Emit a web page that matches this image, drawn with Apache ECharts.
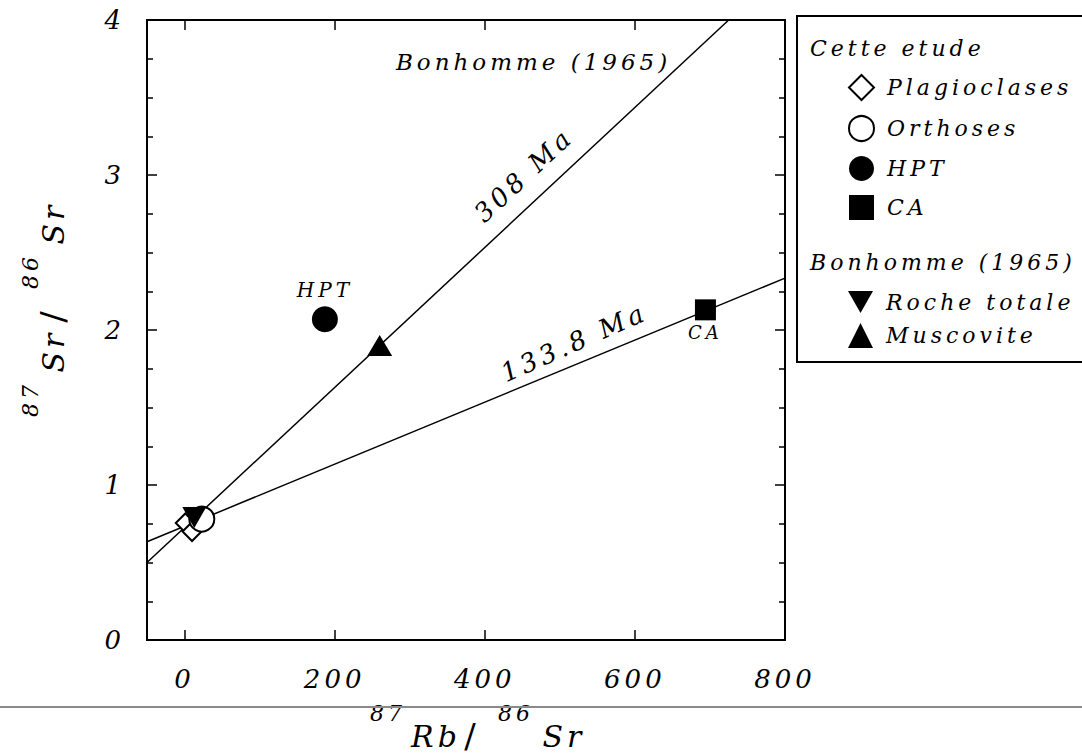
<!DOCTYPE html>
<html>
<head>
<meta charset="utf-8">
<script src="https://cdn.jsdelivr.net/npm/echarts@6/dist/echarts.min.js"></script>
<style>
  html, body { margin: 0; padding: 0; background: #fff; }
  #chart { width: 1082px; height: 756px; }
  #chart text { letter-spacing: 4px; }
</style>
</head>
<body>
<div id="chart"></div>
<script>
// tick values
var xTicks = [0, 200, 400, 600, 800];
var xTopTicks = [0, 200, 400, 600];

// measured points (87Rb/86Sr, 87Sr/86Sr)
var plagioclases = [[1, 0.755], [10, 0.70]];
var orthoses = [[23, 0.78]];
var hpt = [[187, 2.07]];
var ca = [[694, 2.13]];
var rocheTotale = [[13, 0.79]];
var muscovite = [[260, 1.90]];

// isochron end points
var iso308 = [[-50, 0.50], [725, 4.0]];
var iso1338 = [[-50, 0.634], [800, 2.335]];

// text notes placed in data space
var notes = [
  { text: 'Bonhomme (1965)', at: [465, 3.73], rotate: 0, size: 23 },
  { text: '308 Ma', at: [452, 3.0], rotate: 43, size: 26 },
  { text: '133.8 Ma', at: [519, 1.92], rotate: 24, size: 26 }
];

var FONT = 'DejaVu Serif';
var ink = '#000';
var downTri = 'path://M0,0 L24,0 L12,21 Z';

var chart = echarts.init(document.getElementById('chart'), null, { renderer: 'svg' });

function sym(name, symbol, size, filled, data, extra) {
  var s = {
    name: name,
    type: 'scatter',
    data: data,
    symbol: symbol,
    symbolSize: size,
    itemStyle: filled
      ? { color: ink, borderColor: ink, borderWidth: 0, opacity: 1 }
      : { color: '#fff', borderColor: ink, borderWidth: 2, opacity: 1 },
    emphasis: { disabled: true },
    silent: true
  };
  for (var k in extra) s[k] = extra[k];
  return s;
}

var tickStyle = { color: ink, width: 1.5 };
var labelStyle = { color: ink, fontFamily: FONT, fontStyle: 'italic', fontSize: 26 };
var legendText = { color: ink, fontFamily: FONT, fontStyle: 'italic', fontSize: 22, padding: [0, 0, 0, 8] };

chart.setOption({
  animation: false,
  grid: {
    left: 147, right: 297, top: 20, bottom: 116,
    show: true, borderColor: ink, borderWidth: 2, backgroundColor: 'transparent'
  },
  xAxis: [{
    type: 'value', min: -50, max: 800, position: 'bottom',
    axisLine: { show: false, onZero: false },
    splitLine: { show: false },
    axisTick: { inside: true, length: 10, lineStyle: tickStyle, customValues: xTicks },
    axisLabel: Object.assign({ margin: 26, customValues: xTicks }, labelStyle)
  }, {
    type: 'value', min: -50, max: 800, position: 'top',
    axisLine: { show: false, onZero: false },
    splitLine: { show: false },
    axisTick: { inside: true, length: 10, lineStyle: tickStyle, customValues: xTopTicks },
    axisLabel: { show: false }
  }],
  yAxis: [{
    type: 'value', min: 0, max: 4, interval: 1, position: 'left',
    axisLine: { show: false, onZero: false },
    splitLine: { show: false },
    axisTick: { inside: true, length: 10, lineStyle: tickStyle },
    minorTick: { show: true, splitNumber: 4, length: 6, lineStyle: tickStyle },
    axisLabel: Object.assign({ margin: 22 }, labelStyle)
  }, {
    type: 'value', min: 0, max: 4, interval: 1, position: 'right',
    axisLine: { show: false, onZero: false },
    splitLine: { show: false },
    axisTick: { inside: true, length: 10, lineStyle: tickStyle },
    minorTick: { show: true, splitNumber: 4, length: 6, lineStyle: tickStyle },
    axisLabel: { show: false }
  }],
  legend: [{
    orient: 'vertical', left: 843, top: 69,
    itemWidth: 25, itemHeight: 25, itemGap: 14,
    selectedMode: false,
    data: ['Plagioclases', 'Orthoses', 'HPT', 'CA'],
    textStyle: legendText
  }, {
    orient: 'vertical', left: 843, top: 286,
    itemWidth: 25, itemHeight: 25, itemGap: 10,
    selectedMode: false,
    data: ['Roche totale', 'Muscovite'],
    textStyle: legendText
  }],
  series: [
    {
      name: '308 Ma', type: 'line', data: iso308, symbol: 'none', silent: true,
      lineStyle: { color: ink, width: 1.5 }, z: 1
    },
    {
      name: '133.8 Ma', type: 'line', data: iso1338, symbol: 'none', silent: true,
      lineStyle: { color: ink, width: 1.5 }, z: 1
    },
    sym('Plagioclases', 'diamond', 19, false, plagioclases, { z: 2 }),
    sym('Orthoses', 'circle', 25, false, orthoses, { z: 3 }),
    sym('Roche totale', downTri, [24, 21], true, rocheTotale, { z: 4 }),
    sym('HPT', 'circle', 26, true, hpt, {
      z: 4,
      label: {
        show: true, position: 'top', distance: 6, formatter: 'HPT',
        color: ink, fontFamily: FONT, fontStyle: 'italic', fontSize: 20
      }
    }),
    sym('CA', 'rect', 21, true, ca, {
      z: 4,
      label: {
        show: true, position: 'bottom', distance: 3, formatter: 'CA',
        color: ink, fontFamily: FONT, fontStyle: 'italic', fontSize: 18
      }
    }),
    sym('Muscovite', 'triangle', [25, 21], true, muscovite, { z: 4 })
  ]
});

// everything that is only text or frame goes in as graphic elements
var graphics = [];
notes.forEach(function (n, i) {
  var p = chart.convertToPixel({ gridIndex: 0 }, n.at);
  graphics.push({
    type: 'text', id: 'note' + i, x: p[0], y: p[1],
    rotation: n.rotate * Math.PI / 180, silent: true,
    style: {
      text: n.text, fill: ink, align: 'center', verticalAlign: 'middle',
      font: 'italic ' + n.size + 'px "' + FONT + '"'
    }
  });
});

// isotope ratio titles: superscript mass numbers as separate pieces
function ratioTitle(id, x, y, rotation, el1, el2) {
  function piece(text, dx, dy, size, italic) {
    return {
      type: 'text', x: dx, y: dy, silent: true,
      style: {
        text: text, fill: ink, align: 'center', verticalAlign: 'middle',
        font: (italic ? 'italic ' : '') + size + 'px "' + FONT + '"'
      }
    };
  }
  return {
    type: 'group', id: id, x: x, y: y, rotation: rotation, silent: true,
    children: [
      piece('87', -92, -15, 22, true),
      piece(el1, -44, 8, 30, true),
      piece('/', -8, 8, 34, false),
      piece('86', 36, -15, 22, true),
      piece(el2, 84, 8, 30, true)
    ]
  };
}
graphics.push(ratioTitle('xname', 480, 728, 0, 'Rb', 'Sr'));
graphics.push(ratioTitle('yname', 45, 307, Math.PI / 2, 'Sr', 'Sr'));

// legend frame and group headers
graphics.push({
  type: 'rect', id: 'legendBox', silent: true,
  shape: { x: 797, y: 16, width: 300, height: 346 },
  style: { fill: 'none', stroke: ink, lineWidth: 2 }
});
graphics.push({
  type: 'text', id: 'head1', x: 810, y: 48, silent: true,
  style: { text: 'Cette etude', fill: ink, verticalAlign: 'middle', font: 'italic 22px "' + FONT + '"' }
});
graphics.push({
  type: 'text', id: 'head2', x: 810, y: 262, silent: true,
  style: { text: 'Bonhomme (1965)', fill: ink, verticalAlign: 'middle', font: 'italic 22px "' + FONT + '"' }
});

// page rule between the tick labels and the axis title
graphics.push({
  type: 'line', id: 'pageRule', silent: true,
  shape: { x1: 0, y1: 707, x2: 1082, y2: 707 },
  style: { stroke: '#8a8a8a', lineWidth: 2 }
});

chart.setOption({ graphic: graphics });
window.addEventListener('resize', function () { chart.resize(); });
</script>
</body>
</html>
